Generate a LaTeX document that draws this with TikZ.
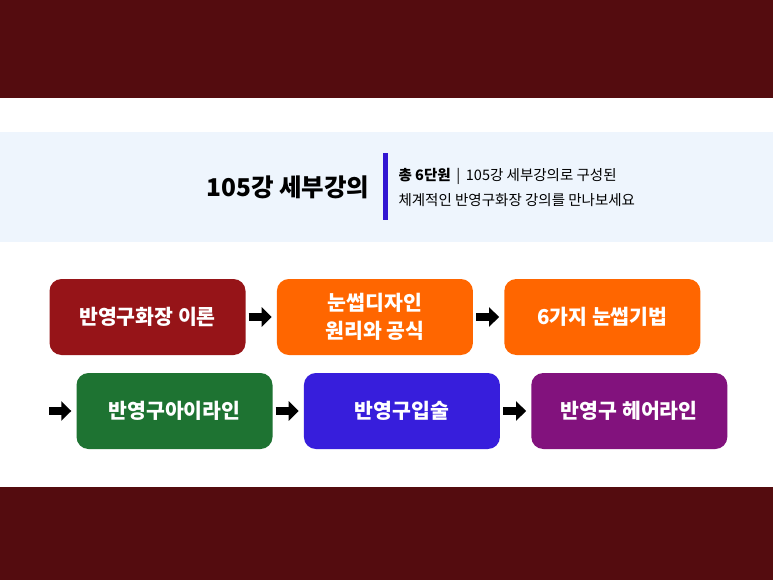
\documentclass[tikz,border=0pt]{standalone}
\usepackage{fontspec}
\setmainfont{Noto Sans CJK KR}
\usepackage{tikz}
\usetikzlibrary{positioning,calc,arrows.meta}
\definecolor{bandred}{RGB}{84,12,15}
\definecolor{paleblue}{RGB}{238,245,253}
\definecolor{barblue}{RGB}{50,22,210}
\definecolor{boxred}{RGB}{150,20,24}
\definecolor{boxorange}{RGB}{255,102,0}
\definecolor{boxgreen}{RGB}{30,115,50}
\definecolor{boxblue}{RGB}{55,30,220}
\definecolor{boxpurple}{RGB}{130,18,125}

\begin{document}
\begin{tikzpicture}[x=1pt, y=-1pt,
    stage/.style={rounded corners=12pt, minimum width=196pt, minimum height=76pt,
        text=white, font=\fontsize{20.5}{28}\selectfont\bfseries, align=center, inner sep=0pt},
    flow/.style={line width=8pt, -{Triangle[length=10pt,width=19pt]}, shorten <=3pt, shorten >=5pt}]
    % Fond
    \useasboundingbox (0,0) rectangle (773,580);
    \fill[white] (0,0) rectangle (773,580);
    \fill[bandred] (0,0) rectangle (773,98);
    \fill[bandred] (0,487) rectangle (773,580);
    \fill[paleblue] (0,132) rectangle (773,242);

    % Titre
    \node[font=\fontsize{24.5}{28}\selectfont\bfseries] (title) at (288,187) {105강 세부강의};
    \fill[barblue] (383,153) rectangle (388,220);
    \node[anchor=west, font=\fontsize{14.5}{25}\selectfont, align=left] (info) at (395,187)
        {{\bfseries 총 6단원} \,|\, 105강 세부강의로 구성된\\체계적인 반영구화장 강의를 만나보세요};

    % Étapes
    \node[stage, fill=boxred] (theory) at (147.5,317) {반영구화장 이론};
    \node[stage, fill=boxorange, right=31pt of theory] (design) {눈썹디자인\\원리와 공식};
    \node[stage, fill=boxorange, right=31pt of design] (brow) {6가지 눈썹기법};
    \node[stage, fill=boxgreen] (eyeline) at (174.5,411) {반영구아이라인};
    \node[stage, fill=boxblue, right=31pt of eyeline] (lip) {반영구입술};
    \node[stage, fill=boxpurple, right=31pt of lip] (hair) {반영구 헤어라인};

    % Flèches
    \coordinate (start) at (46,411);
    \draw[flow] (theory) -- (design);
    \draw[flow] (design) -- (brow);
    \draw[flow] (start) -- (eyeline);
    \draw[flow] (eyeline) -- (lip);
    \draw[flow] (lip) -- (hair);
\end{tikzpicture}
\end{document}
